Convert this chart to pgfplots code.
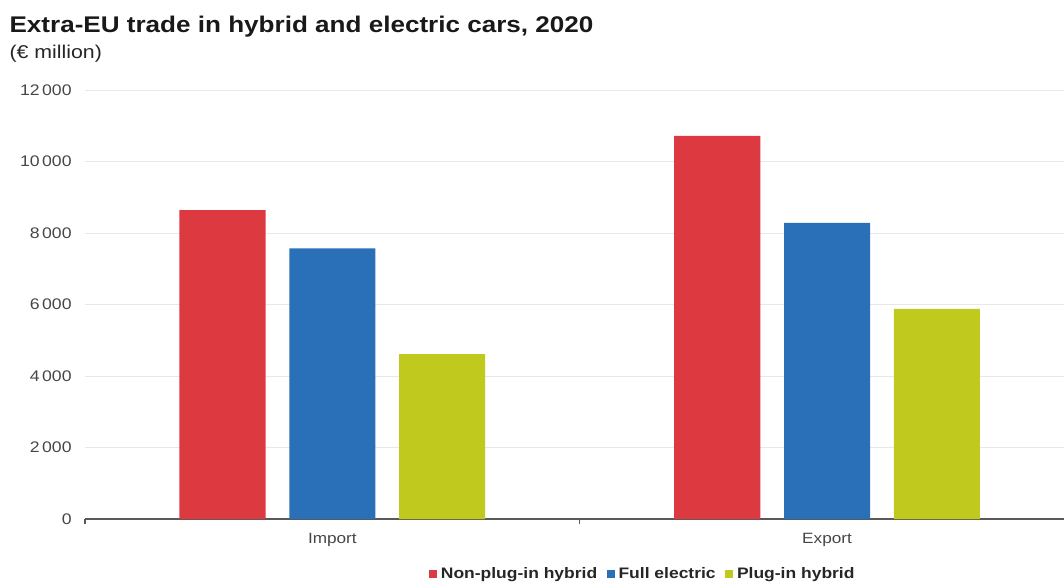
\documentclass[border=0pt]{standalone}
\usepackage{pgfplots}
\pgfplotsset{compat=1.18}
\usepackage{pgfplotstable}
\usepackage{fontspec}
\setmainfont{Liberation Sans}[FakeStretch=1.15]
\definecolor{cred}{RGB}{220,58,64}
\definecolor{cblue}{RGB}{42,112,185}
\definecolor{cgreen}{RGB}{192,202,30}
\definecolor{txtgray}{RGB}{70,70,70}
\pgfplotstableread{
x non full plug
0 8640 7570 4610
1 10720 8280 5880
}\trade
\begin{document}
\begin{tikzpicture}
\useasboundingbox (0,0) rectangle (798pt,-436.5pt);
\node[anchor=base west,inner sep=0pt,font=\bfseries\fontsize{17}{20}\selectfont,text=black!90] at (7pt,-24pt) {Extra-EU trade in hybrid and electric cars, 2020};
\node[anchor=base west,inner sep=0pt,font=\fontsize{13.9}{16}\selectfont,text=black!85] at (7pt,-43.5pt) {(€ million)};
\begin{axis}[
  at={(63.75pt,-389.25pt)}, anchor=south west,
  scale only axis, width=734.25pt, height=321.75pt,
  xmin=-0.5, xmax=1.479, ymin=0, ymax=12000,
  ybar, bar width=0.174,
  axis lines*=left,
  y axis line style={draw=none},
  x axis line style={draw=black!65, line width=0.8pt},
  ymajorgrids, grid style={black!9, line width=0.6pt},
  scaled y ticks=false,
  ytick={0,2000,4000,6000,8000,10000,12000},
  yticklabels={0,2\,000,4\,000,6\,000,8\,000,10\,000,12\,000},
  ytick style={draw=none},
  yticklabel style={font=\fontsize{11.5}{13}\selectfont, text=txtgray, xshift=-2.5pt},
  xtick={-0.5,0.5,1.5}, xticklabels={},
  tick align=outside,
  xtick style={draw=black!65, line width=0.8pt},
  extra x ticks={0,1}, extra x tick labels={Import,Export},
  extra x tick style={major tick length=0pt, xticklabel style={font=\fontsize{11.2}{13}\selectfont, text=txtgray, yshift=-7pt}},
  major tick length=4pt,
  legend columns=3,
  legend style={at={(0.57,-0.128)}, anchor=center, draw=none, fill=none,
    font=\bfseries\fontsize{11.4}{14}\selectfont, text=black!85,
    /tikz/every even column/.append style={column sep=5pt},
    /tikz/every odd column/.append style={column sep=1pt}},
  legend image code/.code={\fill[#1] (0pt,-3pt) rectangle (6pt,3pt);},
]
\addplot[fill=cred, draw=none, bar shift=-0.222] table[x=x,y=non]{\trade};
\addlegendentry{Non-plug-in hybrid}
\addplot[fill=cblue, draw=none, bar shift=0] table[x=x,y=full]{\trade};
\addlegendentry{Full electric}
\addplot[fill=cgreen, draw=none, bar shift=0.222] table[x=x,y=plug]{\trade};
\addlegendentry{Plug-in hybrid}
\end{axis}
\end{tikzpicture}
\end{document}
